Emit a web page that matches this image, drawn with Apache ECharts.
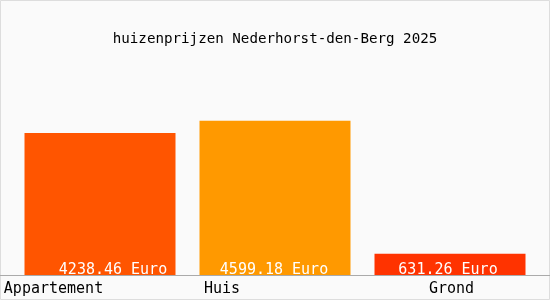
<!DOCTYPE html>
<html>
<head>
<meta charset="utf-8">
<script src="https://cdn.jsdelivr.net/npm/echarts@6/dist/echarts.min.js"></script>
<style>
html,body{margin:0;padding:0;background:#fafafa;}
#c{width:550px;height:300px;}
</style>
</head>
<body>
<div id="c"></div>
<script>
var titleText = 'huizenprijzen Nederhorst-den-Berg 2025';
var categories = ['Appartement', 'Huis', 'Grond'];
var values = [4238.46, 4599.18, 631.26];
var colors = ['#ff5500', '#ff9900', '#ff3300'];
var unit = 'Euro';

var font = '"DejaVu Sans Mono", monospace';
var chart = echarts.init(document.getElementById('c'), null, {renderer: 'canvas'});
var labelOffsets = [[13, 3], [-1, 3], [-2, 3]];
var catPadding = [[0, 93, 0, 0], [0, 106, 0, 0], [0, 0, 0, 3]];

chart.setOption({
  backgroundColor: '#fafafa',
  animation: false,
  title: {
    text: titleText,
    left: 'center',
    top: 27,
    textStyle: {fontFamily: font, fontSize: 14.2, fontWeight: 'normal', color: '#000'}
  },
  grid: {left: 12.5, right: 12.5, top: 90, bottom: 25},
  xAxis: {
    type: 'category',
    data: categories.map(function (c, i) {
      return {value: c, textStyle: {padding: catPadding[i]}};
    }),
    axisLine: {show: false},
    axisTick: {show: false},
    axisLabel: {
      fontFamily: font, fontSize: 15, color: '#000', margin: 7
    }
  },
  yAxis: {
    type: 'value',
    min: 0,
    max: 5519,
    show: false,
    splitLine: {show: false}
  },
  graphic: [
    {type: 'rect', shape: {x: 0.5, y: 0.5, width: 549, height: 299}, style: {fill: 'none', stroke: '#dddddd', lineWidth: 1}, silent: true, z: -1},
    {type: 'line', shape: {x1: 0, y1: 275.5, x2: 550, y2: 275.5}, style: {stroke: '#aaaaaa', lineWidth: 1}, silent: true, z: 10}
  ],
  series: [{
    type: 'bar',
    barWidth: 151,
    data: values.map(function (v, i) {
      return {
        value: v,
        itemStyle: {color: colors[i]},
        label: {offset: labelOffsets[i]}
      };
    }),
    label: {
      show: true,
      position: 'insideBottom',
      distance: 0,
      fontFamily: font,
      fontSize: 15,
      color: '#ffffff',
      formatter: function (p) { return p.value.toFixed(2) + ' ' + unit; }
    }
  }]
});
</script>
</body>
</html>
